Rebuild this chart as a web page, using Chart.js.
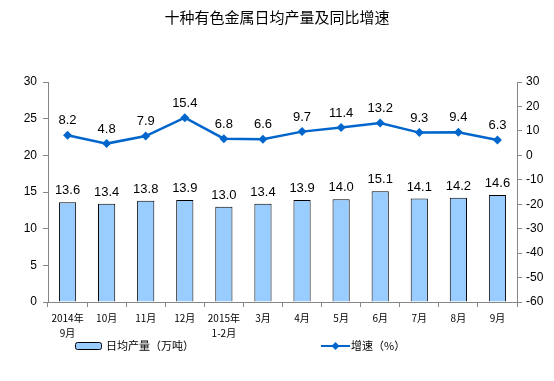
<!DOCTYPE html>
<html>
<head>
<meta charset="utf-8">
<script src="https://cdn.jsdelivr.net/npm/chart.js@4/dist/chart.umd.min.js"></script>
<style>
  html, body { margin: 0; padding: 0; background: #fff; }
  #wrap { width: 554px; height: 381px; position: relative; }
</style>
</head>
<body>
<div id="wrap"><canvas id="chart" width="554" height="381"></canvas></div>
<script>
// data
const categories = [['2014年', '9月'], '10月', '11月', '12月', ['2015年', '1-2月'], '3月', '4月', '5月', '6月', '7月', '8月', '9月'];
const dailyOutput = [13.6, 13.4, 13.8, 13.9, 13.0, 13.4, 13.9, 14.0, 15.1, 14.1, 14.2, 14.6];
const growthRate = [8.2, 4.8, 7.9, 15.4, 6.8, 6.6, 9.7, 11.4, 13.2, 9.3, 9.4, 6.3];
const leftTicks = [0, 5, 10, 15, 20, 25, 30];
const rightTicks = [-60, -50, -40, -30, -20, -10, 0, 10, 20, 30];

const titleText = '十种有色金属日均产量及同比增速';
const numFont = '"Liberation Sans", Arial, sans-serif';
const cjkFont = '"Noto Sans CJK SC", "Liberation Sans", sans-serif';

// labels above bars and points, title and legend
const extras = {
    id: 'extras',
    afterDatasetsDraw(chart) {
        const ctx = chart.ctx;
        ctx.save();
        ctx.fillStyle = '#000';
        ctx.font = '13px ' + numFont;
        ctx.textAlign = 'center';
        ctx.textBaseline = 'bottom';
        chart.getDatasetMeta(0).data.forEach((bar, i) => {
            ctx.fillText(dailyOutput[i].toFixed(1), bar.x, bar.y - 5);
        });
        chart.getDatasetMeta(1).data.forEach((pt, i) => {
            ctx.fillText(growthRate[i].toFixed(1), pt.x, pt.y - 8);
        });

        // title
        ctx.font = '15px ' + cjkFont;
        ctx.textBaseline = 'middle';
        ctx.fillText(titleText, 277, 17);

        // legend
        const y = 346;
        ctx.fillStyle = '#99CCFF';
        ctx.strokeStyle = '#000';
        ctx.lineWidth = 1;
        ctx.beginPath();
        ctx.roundRect(75.5, 342.5, 26, 7, 2);
        ctx.fill();
        ctx.stroke();
        ctx.fillStyle = '#000';
        ctx.font = '11px ' + cjkFont;
        ctx.textAlign = 'left';
        ctx.fillText(chart.data.datasets[0].label, 106, y);

        ctx.strokeStyle = '#0066CC';
        ctx.lineWidth = 2;
        ctx.beginPath();
        ctx.moveTo(321, y);
        ctx.lineTo(350, y);
        ctx.stroke();
        ctx.fillStyle = '#0066CC';
        ctx.beginPath();
        ctx.moveTo(335.5, y - 4);
        ctx.lineTo(339.5, y);
        ctx.lineTo(335.5, y + 4);
        ctx.lineTo(331.5, y);
        ctx.closePath();
        ctx.fill();
        ctx.fillStyle = '#000';
        ctx.fillText(chart.data.datasets[1].label, 351, y);
        ctx.restore();
    }
};

const axisColor = '#868686';

new Chart(document.getElementById('chart').getContext('2d'), {
    data: {
        labels: categories,
        datasets: [{
            type: 'bar',
            label: '日均产量（万吨）',
            data: dailyOutput,
            yAxisID: 'y',
            backgroundColor: '#99CCFF',
            borderColor: '#000',
            borderWidth: 1,
            categoryPercentage: 1,
            barPercentage: 0.44,
            order: 2
        }, {
            type: 'line',
            label: '增速（%）',
            data: growthRate,
            yAxisID: 'y1',
            borderColor: '#0066CC',
            backgroundColor: '#0066CC',
            borderWidth: 2.5,
            pointStyle: 'rectRot',
            pointRadius: 4.5,
            pointBorderWidth: 0,
            tension: 0,
            order: 1
        }]
    },
    options: {
        responsive: false,
        animation: false,
        layout: { padding: { top: 82, left: 0, right: 0, bottom: 0 } },
        plugins: {
            legend: { display: false },
            tooltip: { enabled: false }
        },
        scales: {
            x: {
                offset: true,
                afterFit: (s) => { s.height = 79; },
                grid: {
                    offset: true,
                    drawOnChartArea: false,
                    tickLength: 5,
                    color: axisColor
                },
                border: { color: axisColor, width: 1 },
                ticks: {
                    color: '#000',
                    padding: 4,
                    maxRotation: 0,
                    autoSkip: false,
                    font: { family: cjkFont, size: 10, lineHeight: 1.5 }
                }
            },
            y: {
                position: 'left',
                min: 0,
                max: 30,
                afterFit: (s) => { s.width = 48; },
                afterBuildTicks: (s) => { s.ticks = leftTicks.map(v => ({ value: v })); },
                grid: { drawOnChartArea: false, tickLength: 5, color: axisColor },
                border: { color: axisColor, width: 1 },
                ticks: { color: '#000', padding: 6, font: { family: numFont, size: 12 } }
            },
            y1: {
                position: 'right',
                min: -60,
                max: 30,
                afterFit: (s) => { s.width = 37; },
                afterBuildTicks: (s) => { s.ticks = rightTicks.map(v => ({ value: v })); },
                grid: { drawOnChartArea: false, tickLength: 5, color: axisColor },
                border: { color: axisColor, width: 1 },
                ticks: { color: '#000', padding: 4, font: { family: numFont, size: 12 } }
            }
        }
    },
    plugins: [extras]
});
</script>
</body>
</html>
